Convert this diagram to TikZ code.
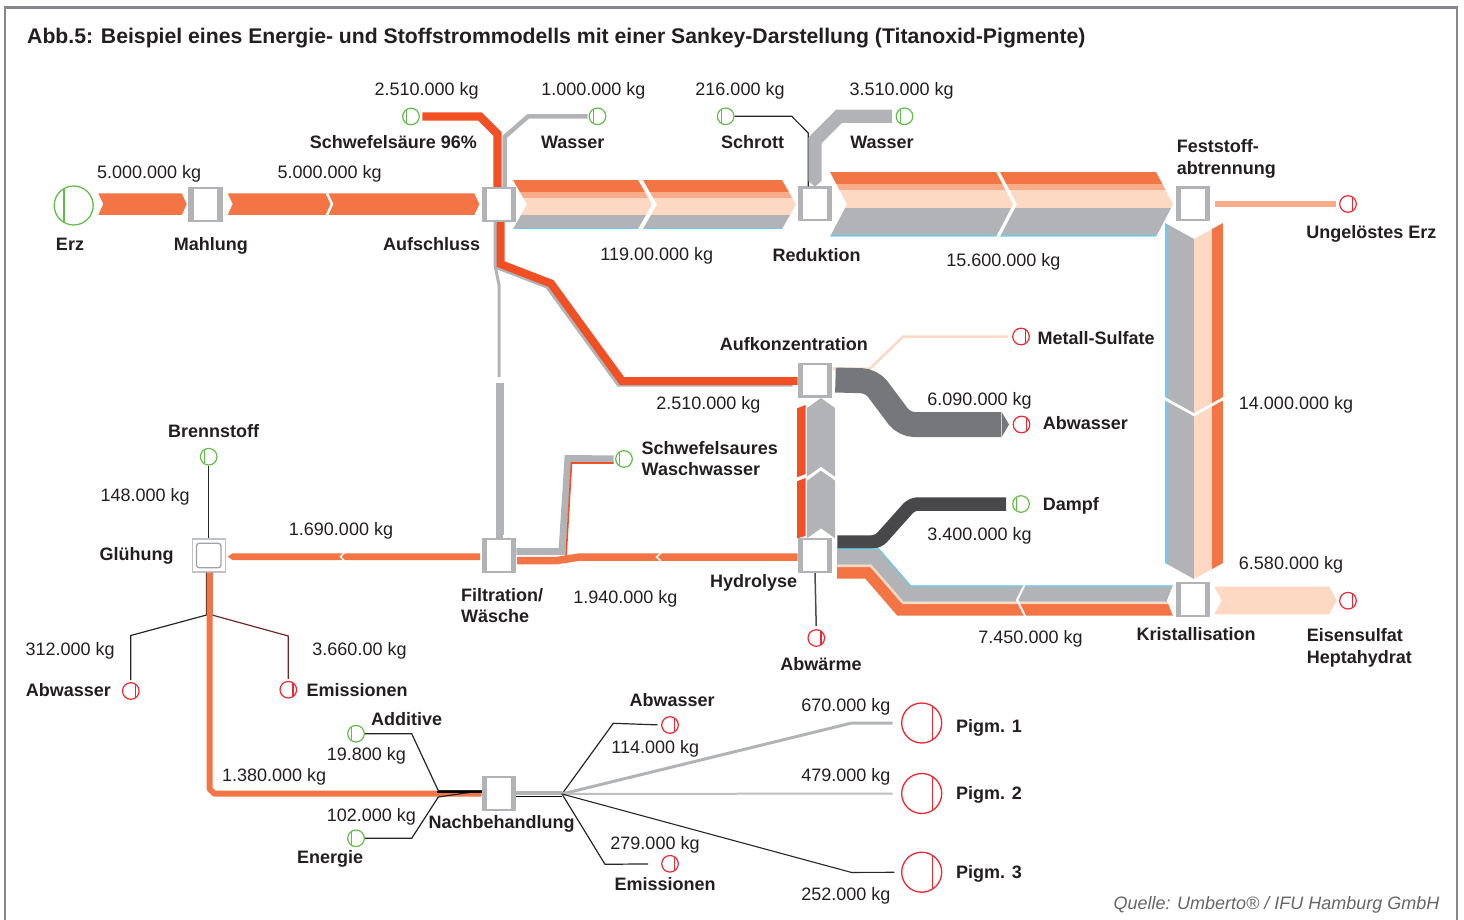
\documentclass[tikz,border=0pt]{standalone}
\usepackage{fontspec}
\setmainfont{Liberation Sans}

\definecolor{orangeflow}{RGB}{243,117,69}
\definecolor{acidred}{RGB}{240,80,35}
\definecolor{lightorange}{RGB}{248,172,137}
\definecolor{peachflow}{RGB}{253,216,195}
\definecolor{flowgray}{RGB}{177,179,182}
\definecolor{flowblue}{RGB}{107,204,240}
\definecolor{waste}{RGB}{118,119,123}
\definecolor{steamgray}{RGB}{72,72,74}
\definecolor{ingreen}{RGB}{98,189,75}
\definecolor{outred}{RGB}{237,40,50}
\definecolor{inkc}{RGB}{35,31,32}
\definecolor{framegray}{RGB}{135,136,140}
\definecolor{emisbrown}{RGB}{110,40,40}
\definecolor{boxline}{RGB}{160,162,166}

\newcommand{\labfont}{\fontsize{18}{21.5}\selectfont}
\newcommand{\hchevfill}[6]{%
  \fill[#1] (#2,#4) -- (#3,#4) -- ({#3+#6},{(#4+#5)/2}) -- (#3,#5) -- (#2,#5) -- ({#2+#6},{(#4+#5)/2}) -- cycle;}
\newcommand{\hchevclip}[7]{%
  \clip (#1,#5) -- (#2,#5) -- ({#2+#7},{(#5+#6)/2}) -- (#2,#6) -- (#1,#6) -- ({#1+#7},{(#5+#6)/2}) -- cycle
        (#3,#5) -- (#4,#5) -- ({#4+#7},{(#5+#6)/2}) -- (#4,#6) -- (#3,#6) -- ({#3+#7},{(#5+#6)/2}) -- cycle;}
\newcommand{\vchevclip}[7]{%
  \clip (#1,#3) -- ({(#1+#2)/2},{#3+#7}) -- (#2,#3) -- (#2,#4) -- ({(#1+#2)/2},{#4+#7}) -- (#1,#4) -- cycle
        (#1,#5) -- ({(#1+#2)/2},{#5+#7}) -- (#2,#5) -- (#2,#6) -- ({(#1+#2)/2},{#6+#7}) -- (#1,#6) -- cycle;}

\tikzset{
  proc/.style={rectangle, fill=flowgray, minimum width=34.5pt, minimum height=35pt, inner sep=0pt,
    path picture={\fill[white] ([shift={(5.3pt,2.2pt)}]path picture bounding box.south west)
      rectangle ([shift={(-5.3pt,-2.2pt)}]path picture bounding box.north east);}},
  gluebox/.style={rectangle, draw=flowgray!80, line width=1.4pt, fill=white, minimum size=33pt, inner sep=0pt,
    path picture={\draw[boxline, line width=1.3pt, rounded corners=3pt] ([shift={(4.2pt,4.2pt)}]path picture bounding box.south west)
      rectangle ([shift={(-4.2pt,-4.2pt)}]path picture bounding box.north east);}},
  src/.style={circle, draw=ingreen, line width=1.2pt, minimum size=16.6pt, inner sep=0pt,
    path picture={\draw[ingreen, line width=1.2pt] ([xshift=-4.3pt]path picture bounding box.north) -- ([xshift=-4.3pt]path picture bounding box.south);}},
  srcbig/.style={circle, draw=ingreen, line width=1.3pt, minimum size=39pt, inner sep=0pt,
    path picture={\draw[ingreen, line width=1.3pt] ([xshift=-9.7pt]path picture bounding box.north) -- ([xshift=-9.7pt]path picture bounding box.south);}},
  snk/.style={circle, draw=outred, line width=1.2pt, minimum size=16.6pt, inner sep=0pt,
    path picture={\draw[outred, line width=1.2pt] ([xshift=4.6pt]path picture bounding box.north) -- ([xshift=4.6pt]path picture bounding box.south);}},
  snkbig/.style={circle, draw=outred, line width=1.3pt, minimum size=40pt, inner sep=0pt,
    path picture={\draw[outred, line width=1.3pt] ([xshift=10.6pt]path picture bounding box.north) -- ([xshift=10.6pt]path picture bounding box.south);}},
  lbl/.style={font=\labfont\bfseries, text=inkc, inner sep=0pt, anchor=base},
  val/.style={font=\labfont, text=inkc, inner sep=0pt, anchor=base},
  link/.style={draw=black!85, line width=1.2pt}
}

\begin{document}
\begin{tikzpicture}[x=1pt, y=-1pt]
    \useasboundingbox (0,0) rectangle (1464,920);
    \draw[framegray, line width=2.5pt] (5,921) -- (5,7.5) -- (1457,7.5) -- (1457,921);
    \node[lbl, anchor=base west, font=\fontsize{21.2}{25}\selectfont\bfseries] (title) at (27,44)
        {Abb.5: Beispiel eines Energie- und Stoffstrommodells mit einer Sankey-Darstellung (Titanoxid-Pigmente)};

    \node[proc] (mahl) at (205.5,204.5) {};
    \node[proc] (aufsch) at (499,204.5) {};
    \node[proc] (reduk) at (815,204) {};
    \node[proc] (fest) at (1193,204) {};
    \node[proc] (aufk) at (815,380) {};
    \node[proc] (hydro) at (815,555.5) {};
    \node[proc] (filt) at (499,555.5) {};
    \node[gluebox] (glueh) at (208.7,555.5) {};
    \node[proc] (krist) at (1193.2,599.5) {};
    \node[proc] (nach) at (499,793.7) {};

    \node[srcbig] (erz) at (73.7,205.5) {};
    \node[src] (acid) at (411,116.5) {};
    \node[src] (wasser) at (597.5,116.3) {};
    \node[src] (schrott) at (725.7,116.3) {};
    \node[src] (wasserb) at (904.5,116.3) {};
    \node[snk] (unerz) at (1348,204) {};
    \node[snk] (metsulf) at (1021,336.5) {};
    \node[snk] (abwa) at (1021.5,424.5) {};
    \node[src] (dampf) at (1021,504) {};
    \node[src] (wasch) at (624,459) {};
    \node[src] (brenn) at (208.7,456.7) {};
    \node[snk] (abwb) at (130.8,691) {};
    \node[snk] (emia) at (288.3,689.7) {};
    \node[snk] (abwaerme) at (816.3,638) {};
    \node[src] (additiv) at (356,733.7) {};
    \node[src] (energie) at (356,838.3) {};
    \node[snk] (abwc) at (670,725) {};
    \node[snk] (emib) at (670,863.8) {};
    \node[snkbig] (pigA) at (921.7,723) {};
    \node[snkbig] (pigB) at (921.7,793.5) {};
    \node[snkbig] (pigC) at (921.7,872.2) {};
    \node[snk] (eisen) at (1348,600.7) {};

    % Erz - Mahlung - Aufschluss
    \hchevfill{orangeflow}{98.3}{181.7}{193.3}{215}{5}
    \hchevfill{orangeflow}{227.7}{325.5}{193.3}{215}{5}
    \hchevfill{orangeflow}{328.5}{474.3}{193.3}{215}{5}

    % Aufschluss - Reduktion - Feststoffabtrennung
    \begin{scope}
        \hchevclip{513}{638}{643}{782}{180}{229}{14}
        \fill[orangeflow] (500,180) rectangle (800,191.7);
        \fill[lightorange] (500,191.7) rectangle (800,198.3);
        \fill[peachflow] (500,198.3) rectangle (800,215);
        \fill[flowgray] (500,215) rectangle (800,227.7);
        \fill[flowblue] (500,227.7) rectangle (800,229);
    \end{scope}
    \begin{scope}
        \hchevclip{830}{996}{1000}{1156}{172}{236.7}{17}
        \fill[orangeflow] (820,172) rectangle (1180,184);
        \fill[lightorange] (820,184) rectangle (1180,190);
        \fill[peachflow] (820,190) rectangle (1180,207.7);
        \fill[flowgray] (820,207.7) rectangle (1180,235.2);
        \fill[flowblue] (820,235.2) rectangle (1180,236.7);
    \end{scope}

    % inputs from above
    \draw[flowgray, line width=4.5pt, shorten <=1pt] (wasser.west) -- (528,116.5) -- (504.5,137) -- (504.5,0 |- aufsch.north);
    \draw[acidred, line width=8.4pt, shorten <=2.4pt] (acid.east) -- (480,116.5) -- (497.5,134) -- (497.5,0 |- aufsch.north);
    \draw[link] (schrott.east) -- (791.7,116.3) -- (808.3,133) -- (808.3,0 |- reduk.north);
    \draw[flowgray, line width=13.4pt, shorten <=3.5pt, shorten >=5.5pt] (wasserb.west) -- (839,116.3) -- (815,140.3) -- (reduk.north);
    \fill[flowgray] (808.3,180.9) -- (821.7,180.9) -- (815,186.5) -- cycle;

    % Feststoffabtrennung - Kristallisation
    \draw[lightorange, line width=5.6pt, shorten <=4.7pt, shorten >=3pt] (fest.east) -- (unerz.west);
    \begin{scope}
        \vchevclip{1165}{1223}{223}{397}{400.5}{563}{16}
        \fill[flowblue] (1165,215) rectangle (1166.5,585);
        \fill[flowgray] (1166.5,215) rectangle (1194.3,585);
        \fill[peachflow] (1194.3,215) rectangle (1211.7,585);
        \fill[orangeflow] (1211.7,215) rectangle (1223,585);
    \end{scope}
    \hchevfill{peachflow}{1214.3}{1329.3}{586.7}{614.3}{7.5}

    % Aufschluss - Filtration und Aufkonzentration
    \draw[flowgray, line width=3pt] ([xshift=-4pt]aufsch.south) -- (495,265) -- (499,285) -- (499,377);
    \draw[flowgray, line width=7pt] (499.5,383) -- (499.5,0 |- filt.north);
    \draw[flowblue, line width=1pt] (503.5,383) -- (503.5,535);
    \draw[flowgray, line width=8pt, shift={(-2.5,1.5)}] (500.5,222) -- (500.5,264) -- (551,283.5) -- (622,381) -- (795,381);
    \draw[acidred, line width=8pt] (500.5,0 |- aufsch.south) -- (500.5,264) -- (551,283.5) -- (622,381) -- (aufk.west |- 0,381);

    % Aufkonzentration - Hydrolyse
    \draw[peachflow, line width=2.5pt, shorten >=4pt] ([yshift=11.5pt]aufk.east) -- (870,368.5) -- (903,336.7) -- (metsulf.west);
    \draw[waste, line width=25pt, rounded corners=10pt, shorten >=11.7pt] ([xshift=3pt]aufk.east) -- (871.7,381) -- (904.2,424.5) -- (abwa.west);
    \fill[waste] (1001.5,411.7) -- (1009,424.5) -- (1001.5,437.3) -- cycle;
    \fill[acidred] (797,408.3) -- (805.5,405) -- (805.5,474) -- (797,477.3) -- cycle;
    \fill[acidred] (797,481.3) -- (805.5,478) -- (805.5,536) -- (797,538.3) -- cycle;
    \begin{scope}
        \vchevclip{807}{835}{408}{476.7}{480.7}{538.3}{(-10)}
        \fill[flowgray] (805,390) rectangle (837,540);
    \end{scope}

    % Hydrolyse - Dampf, Kristallisation, Abwaerme
    \draw[steamgray, line width=13.5pt, rounded corners=6pt, shorten <=5pt, shorten >=6pt] ([yshift=13.5pt]hydro.east) -- (878,542) -- (912,504) -- (dampf.west);
    \begin{scope}
        \clip (837,530) rectangle (1173,625);
        \draw[orangeflow, line width=11.5pt, shift={(-4.21,9.25)}] (830,563.5) -- (872,563.5) -- (904,600.5) -- (1185,600.5);
        \draw[peachflow, line width=2.5pt, shift={(-1.02,2.25)}] (830,563.5) -- (872,563.5) -- (904,600.5) -- (1185,600.5);
        \draw[flowgray, line width=16pt, shift={(3.19,-7)}] (830,563.5) -- (872,563.5) -- (904,600.5) -- (1185,600.5);
        \draw[flowblue, line width=1.3pt, shift={(6.64,-14.6)}] (830,563.5) -- (872,563.5) -- (904,600.5) -- (1185,600.5);
    \end{scope}
    \fill[white] (1173.5,584) -- (1167,600.5) -- (1173.5,617) -- cycle;
    \draw[white, line width=2pt] (1025,584) -- (1017,600) -- (1025,616);
    \draw[black!70, line width=1.5pt, shorten >=3pt] (hydro.south) -- (abwaerme.north);

    % Hydrolyse - Filtration - Gluehung
    \draw[flowgray, line width=7pt, shorten >=1.5pt] ([yshift=4pt]filt.east) -- (562,551.5) -- (568,458.5) -- (wasch.west);
    \draw[acidred, line width=1.6pt, shorten <=1.5pt] ([yshift=-4pt]wasch.west) -- (571.5,463) -- (566,557);
    \draw[orangeflow, line width=7.5pt] ([yshift=-1.5pt]hydro.west) -- (580,557) -- (557,560.5) -- (517,560.5);
    \draw[white, line width=1.5pt] (661,553) -- (656.5,557) -- (661,561);
    \fill[orangeflow] (480,553.3) -- (232.5,553.3) -- (227.7,556.7) -- (232.5,560) -- (480,560) -- cycle;
    \draw[white, line width=1.5pt] (344.5,552.5) -- (340.5,556.7) -- (344.5,561);

    % Gluehung
    \draw[link] (brenn.south) -- (glueh.north);
    \draw[link, shorten >=2pt] ([xshift=-2.2pt]glueh.south) -- (206.5,615) -- (130.8,635.5) -- (abwb.north);
    \draw[emisbrown, line width=1.2pt, shorten >=2pt] ([xshift=3.3pt]glueh.south) -- (212,615) -- (288.3,636) -- (emia.north);
    \draw[orangeflow, line width=6pt, line join=bevel] ([xshift=1pt]glueh.south) -- (209.7,789) -- (214.5,793.7) -- (nach.west);

    % Nachbehandlung
    \draw[link] (additiv.east) -- (411.7,733.7) -- (438.3,790.7) -- ([yshift=3pt]nach.west);
    \draw[link] (energie.east) -- (411.7,838.3) -- (438.3,797) -- ([yshift=3pt]nach.west);
    \draw[black, line width=2pt] (437,792) -- ([yshift=1.7pt]nach.west);
    \coordinate (fan) at (562,794);
    \draw[flowgray, line width=4.5pt] ([yshift=0.5pt]nach.east) -- (562,793.2);
    \draw[black, line width=1.4pt] ([yshift=-2.6pt]nach.east) -- (562,796.3);
    \draw[link, shorten >=3.4pt] (fan) -- (613.3,723.3) -- (abwc.west);
    \draw[link, shorten >=13pt] (fan) -- (605,864.3) -- (emib.west);
    \draw[flowgray, line width=3pt, shorten >=8.4pt] (fan) -- (851.7,723) -- (pigA.west);
    \draw[black!25, line width=2pt, shorten >=8.4pt] (fan) -- (pigB.west);
    \draw[link, line width=1.1pt, shorten >=6.7pt] (fan) -- (851.7,872.5) -- (pigC.west);

    % labels
    \node[lbl] (erzl) at (70,250) {Erz};
    \node[lbl] (mahll) at (210.8,250) {Mahlung};
    \node[lbl] (aufschl) at (431.7,250) {Aufschluss};
    \node[lbl] (acidl) at (393.3,148.3) {Schwefelsäure 96\%};
    \node[lbl] (wasserl) at (572.7,148.3) {Wasser};
    \node[lbl] (schrottl) at (752.7,148.3) {Schrott};
    \node[lbl] (wasserbl) at (882,148.3) {Wasser};
    \node[lbl, align=left, anchor=north west] (festl) at (1176.7,139.6) {Feststoff-\\abtrennung};
    \node[lbl] (unerzl) at (1371.3,238.3) {Ungelöstes Erz};
    \node[lbl] (redukl) at (816.7,261.7) {Reduktion};
    \node[lbl] (aufkl) at (793.8,350.7) {Aufkonzentration};
    \node[lbl, anchor=base west] (metsulfl) at (1037.3,344.3) {Metall-Sulfate};
    \node[lbl, anchor=base west] (abwal) at (1042.6,429) {Abwasser};
    \node[lbl, align=left, anchor=north west] (waschl) at (641.5,440.9) {Schwefelsaures\\Waschwasser};
    \node[lbl, anchor=base west] (dampfl) at (1042.6,510) {Dampf};
    \node[lbl] (brennl) at (213.7,437.3) {Brennstoff};
    \node[lbl] (gluehl) at (136.7,560) {Glühung};
    \node[lbl] (hydrol) at (753.6,587.7) {Hydrolyse};
    \node[lbl, align=left, anchor=north west] (filtl) at (461,587.9) {Filtration/\\Wäsche};
    \node[lbl] (kristl) at (1196.2,640.7) {Kristallisation};
    \node[lbl, align=left, anchor=north west] (eisenl) at (1306.7,628.6) {Eisensulfat\\Heptahydrat};
    \node[lbl] (abwaermel) at (821,670) {Abwärme};
    \node[lbl] (abwbl) at (68.3,696) {Abwasser};
    \node[lbl] (emial) at (357.2,696) {Emissionen};
    \node[lbl] (additivl) at (406.7,725) {Additive};
    \node[lbl] (energiel) at (330.2,863.3) {Energie};
    \node[lbl] (nachl) at (501.7,828.3) {Nachbehandlung};
    \node[lbl] (abwcl) at (672.2,706) {Abwasser};
    \node[lbl] (emibl) at (665.2,890.7) {Emissionen};
    \node[lbl, anchor=base west] (pigAl) at (956,732.3) {Pigm. 1};
    \node[lbl, anchor=base west] (pigBl) at (956,799.3) {Pigm. 2};
    \node[lbl, anchor=base west] (pigCl) at (956,878.3) {Pigm. 3};

    % masses
    \node[val] (acidkg) at (426.7,96) {2.510.000 kg};
    \node[val] (wasserkg) at (593.3,96) {1.000.000 kg};
    \node[val] (schrottkg) at (740,96) {216.000 kg};
    \node[val] (wasserbkg) at (901.7,96) {3.510.000 kg};
    \node[val] (erzkg) at (149.2,179) {5.000.000 kg};
    \node[val] (mahlkg) at (329.7,179) {5.000.000 kg};
    \node[val] (aufschkg) at (656.7,260) {119.00.000 kg};
    \node[val] (redukkg) at (1003.3,266.7) {15.600.000 kg};
    \node[val] (abwakg) at (979.5,405) {6.090.000 kg};
    \node[val] (aufkkg) at (708.4,409.3) {2.510.000 kg};
    \node[val] (festkg) at (1296,409.3) {14.000.000 kg};
    \node[val] (brennkg) at (145.2,501) {148.000 kg};
    \node[val] (dampfkg) at (979.5,540.7) {3.400.000 kg};
    \node[val] (filtkg) at (341,535.7) {1.690.000 kg};
    \node[val] (eisenkg) at (1291,569.3) {6.580.000 kg};
    \node[val] (hydrokg) at (625.4,603.3) {1.940.000 kg};
    \node[val] (kristkg) at (1030.5,643.3) {7.450.000 kg};
    \node[val] (abwbkg) at (70.2,655) {312.000 kg};
    \node[val] (emiakg) at (359.5,655) {3.660.00 kg};
    \node[val] (additivkg) at (366.3,760) {19.800 kg};
    \node[val] (gluehkg) at (274.2,781) {1.380.000 kg};
    \node[val] (energiekg) at (371.3,821.7) {102.000 kg};
    \node[val] (abwckg) at (655.3,753.3) {114.000 kg};
    \node[val] (pigAkg) at (845.8,711.7) {670.000 kg};
    \node[val] (pigBkg) at (845.8,781.7) {479.000 kg};
    \node[val] (emibkg) at (655,849.3) {279.000 kg};
    \node[val] (pigCkg) at (845.8,900) {252.000 kg};

    \node[val, font=\labfont\itshape, text=black!60] (quelle) at (1276.5,909) {Quelle: Umberto® / IFU Hamburg GmbH};
\end{tikzpicture}
\end{document}
